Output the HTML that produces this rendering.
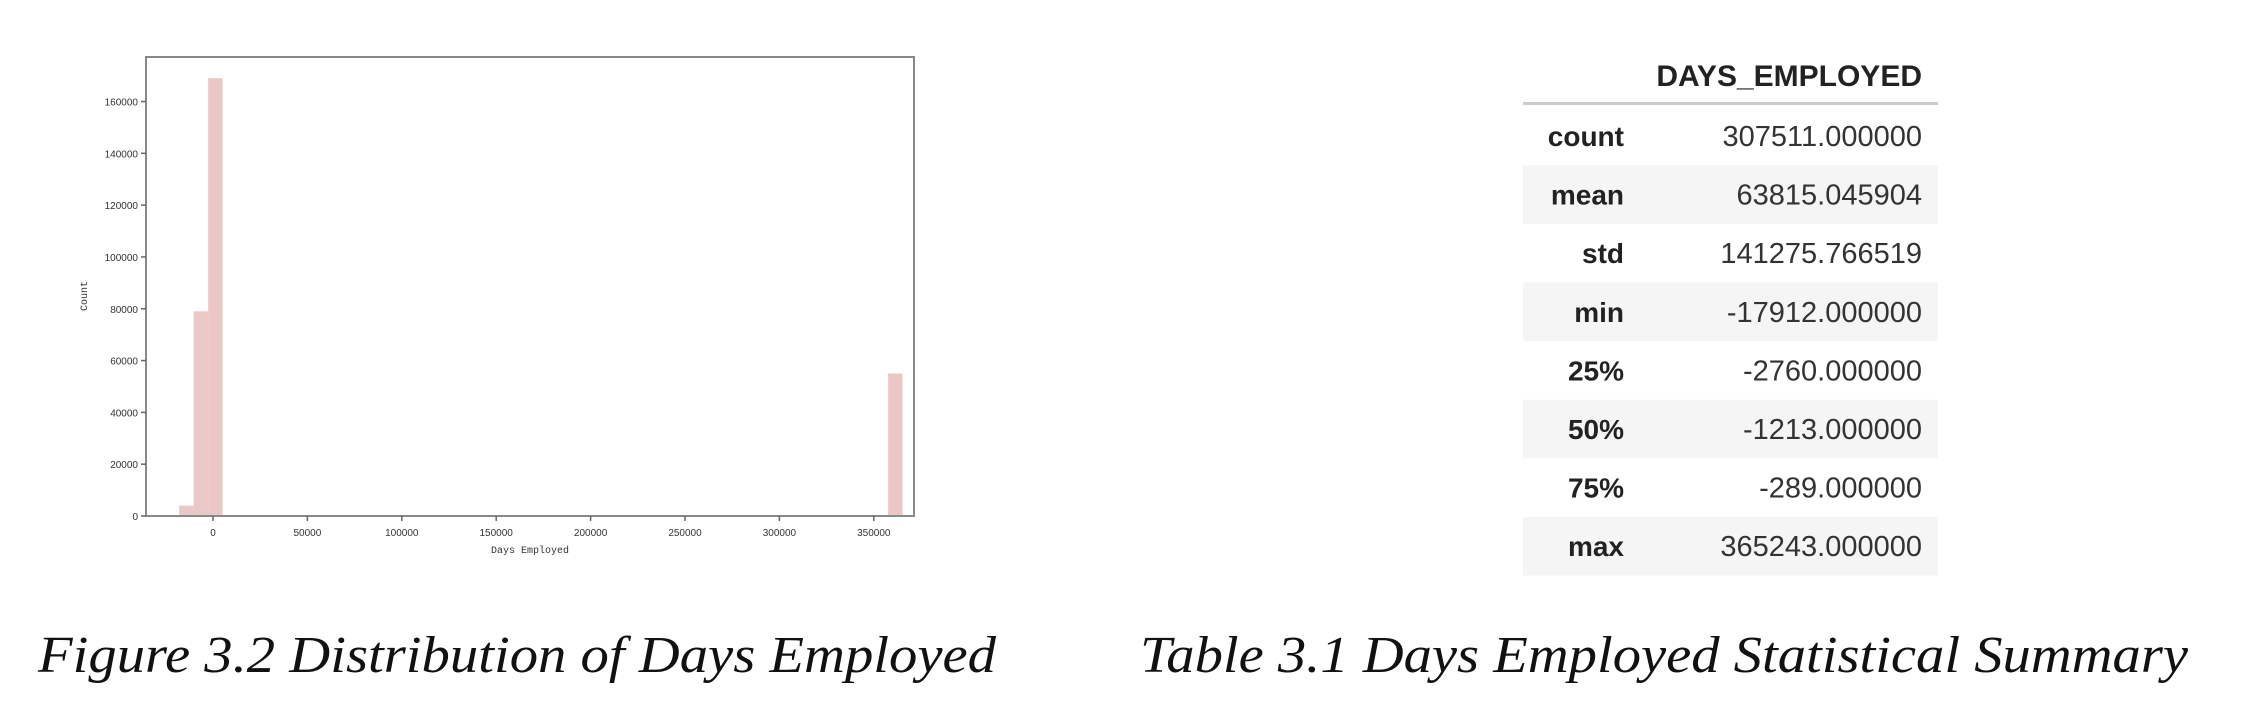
<!DOCTYPE html>
<html><head><meta charset="utf-8">
<style>
html,body{margin:0;padding:0;background:#fff;}
body{width:2242px;height:722px;overflow:hidden;position:relative;}
svg{position:absolute;left:0;top:0;}
</style></head>
<body>
<svg id="fig" width="2242" height="722" xmlns="http://www.w3.org/2000/svg">
  <g id="chart"></g>
  <g id="table"></g>
  <text x="38" y="672" font-family="Liberation Serif, serif" font-style="italic" font-size="52" fill="#111" textLength="958" lengthAdjust="spacingAndGlyphs">Figure 3.2 Distribution of Days Employed</text>
  <text x="1140" y="672" font-family="Liberation Serif, serif" font-style="italic" font-size="52" fill="#111" textLength="1048" lengthAdjust="spacingAndGlyphs">Table 3.1 Days Employed Statistical Summary</text>
</svg>
<script>
const binStarts = [-17912, -10249, -2586, 357580];
const binCounts = [4000, 79000, 169000, 55000];
const binWidth = 7663;
const xTicks = [0, 50000, 100000, 150000, 200000, 250000, 300000, 350000];
const yTicks = [0, 20000, 40000, 60000, 80000, 100000, 120000, 140000, 160000];
const statLabels = ["count","mean","std","min","25%","50%","75%","max"];
const statValues = ["307511.000000","63815.045904","141275.766519","-17912.000000","-2760.000000","-1213.000000","-289.000000","365243.000000"];

const NS = "http://www.w3.org/2000/svg";
function mk(tag, attrs, parent){const e=document.createElementNS(NS,tag);for(const k in attrs)e.setAttribute(k,attrs[k]);parent.appendChild(e);return e;}
const X = v => 213 + v/50000*94.4;
const Y = v => 516 - v/160000*414.5;
const chart = document.getElementById('chart');

for(let i=0;i<binStarts.length;i++){
  const x0=X(binStarts[i]), x1=X(binStarts[i]+binWidth);
  const r=mk('rect',{x:x0,y:Y(binCounts[i]),width:x1-x0,height:516-Y(binCounts[i]),fill:'#ebc8c8'},chart);
  
  
}
const frame=mk('rect',{x:146,y:57,width:768,height:459,fill:'none',stroke:'#888',"stroke-width":2},chart);


xTicks.forEach(t=>{
  mk('line',{x1:X(t),x2:X(t),y1:516,y2:521,stroke:'#666',"stroke-width":1.5},chart);
  const tx=mk('text',{x:X(t),y:536,"text-anchor":"middle","font-family":"Liberation Sans Narrow, Liberation Sans, sans-serif","font-size":10,fill:'#333'},chart);
  tx.textContent=t;
  
  
});
yTicks.forEach(t=>{
  mk('line',{x1:141,x2:146,y1:Y(t),y2:Y(t),stroke:'#666',"stroke-width":1.5},chart);
  const tx=mk('text',{x:138,y:Y(t)+4,"text-anchor":"end","font-family":"Liberation Sans Narrow, Liberation Sans, sans-serif","font-size":10,fill:'#333'},chart);
  tx.textContent=t;
  
  
});
const xl=mk('text',{x:530,y:553,"text-anchor":"middle","font-family":"Liberation Mono, monospace","font-size":10,fill:'#333'},chart);
xl.textContent='Days Employed';


const yl=mk('text',{x:0,y:0,transform:'translate(87,296) rotate(-90)',"text-anchor":"middle","font-family":"Liberation Mono, monospace","font-size":10,fill:'#333'},chart);
yl.textContent='Count';



const table=document.getElementById('table');
const hd=mk('text',{x:1922,y:86,"text-anchor":"end","font-family":"Liberation Sans, sans-serif","font-weight":"bold","font-size":30,fill:'#222'},table);
hd.textContent='DAYS_EMPLOYED';


mk('rect',{x:1523,y:102,width:415,height:3,fill:'#ccc'},table);
statLabels.forEach((lab,i)=>{
  const cy=136+i*58.6;
  if(i%2===1){
    const s=mk('rect',{x:1523,y:cy-29.3,width:415,height:58.6,fill:'#f5f5f5'},table);
    
    
  }
  const a=mk('text',{x:1624,y:cy+10,"text-anchor":"end","font-family":"Liberation Sans, sans-serif","font-weight":"bold","font-size":28,fill:'#222'},table);
  a.textContent=lab;
  
  
  const b=mk('text',{x:1922,y:cy+10,"text-anchor":"end","font-family":"Liberation Sans, sans-serif","font-size":29,fill:'#333'},table);
  b.textContent=statValues[i];
  
  
});
</script>
</body></html>
